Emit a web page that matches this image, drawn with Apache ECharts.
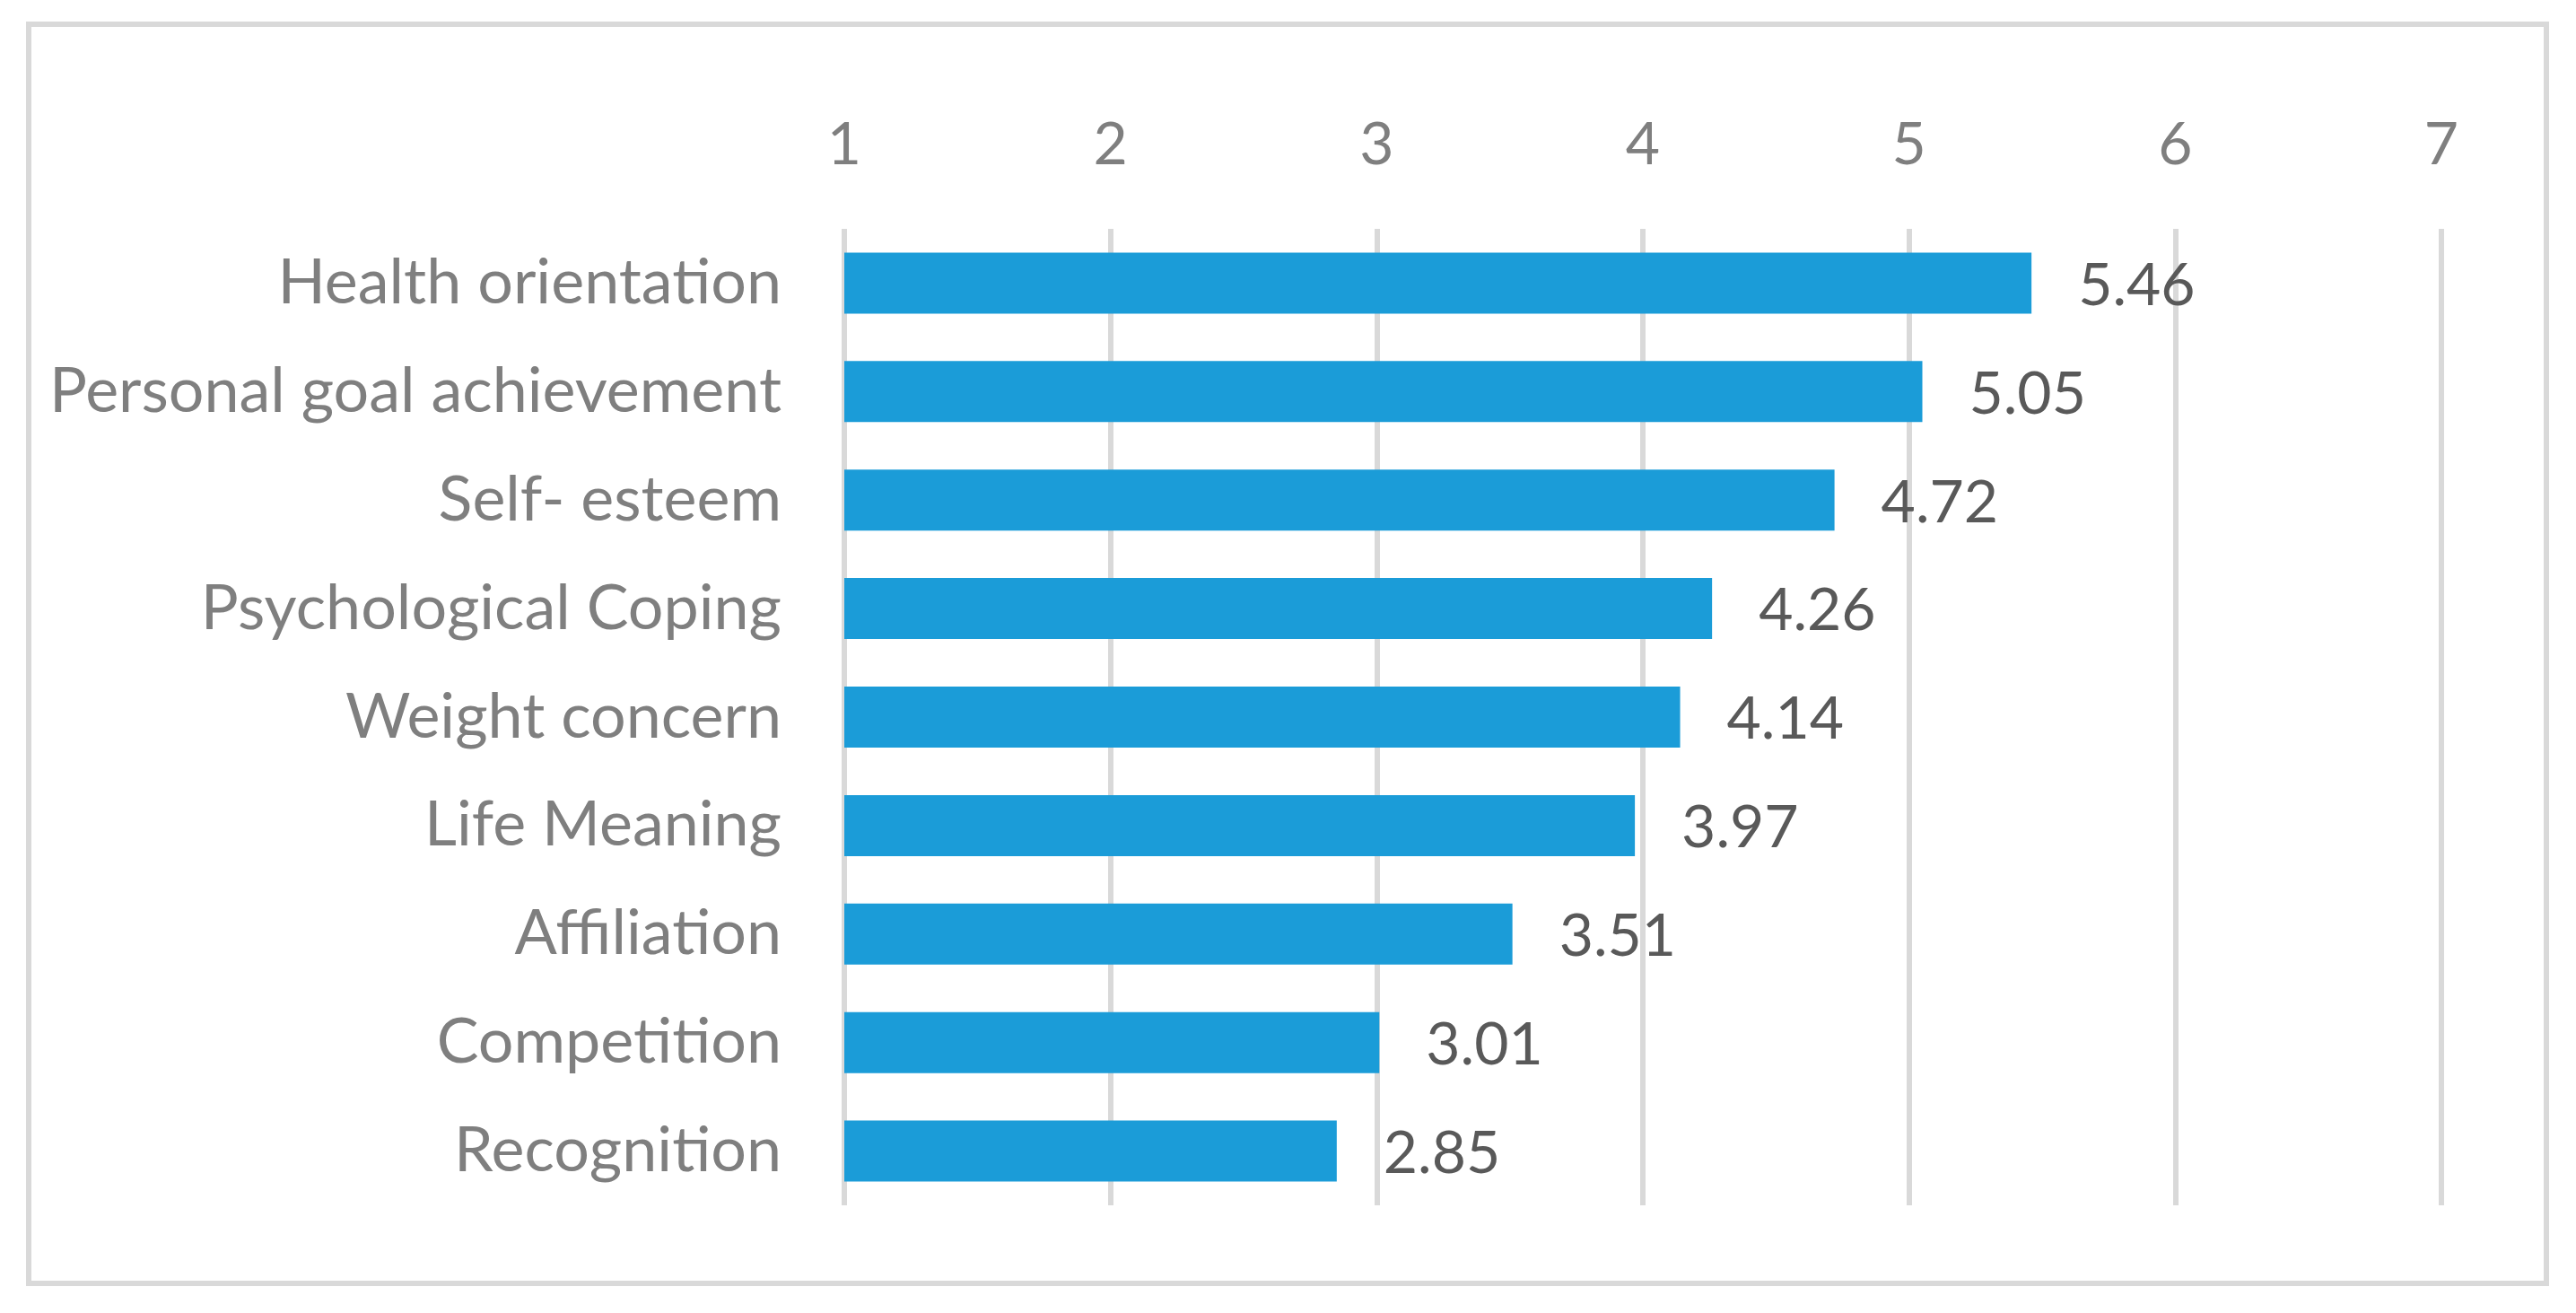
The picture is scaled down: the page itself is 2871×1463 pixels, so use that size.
<!DOCTYPE html>
<html>
<head>
<meta charset="utf-8">
<title>Motives</title>
<script src="https://cdn.jsdelivr.net/npm/echarts@6/dist/echarts.min.js"></script>
<style>
  html, body { margin: 0; padding: 0; background: #fff; }
  #chart { width: 2871px; height: 1463px; }
</style>
</head>
<body>
<div id="chart"></div>
<script>
// data
var categories = ['Health orientation', 'Personal goal achievement', 'Self- esteem',
  'Psychological Coping', 'Weight concern', 'Life Meaning', 'Affiliation',
  'Competition', 'Recognition'];
var scores = [5.46, 5.05, 4.72, 4.26, 4.14, 3.97, 3.51, 3.01, 2.85];
var axisMin = 1, axisMax = 7, axisStep = 1;

var myChart = echarts.init(document.getElementById('chart'));
myChart.setOption({
  animation: false,
  backgroundColor: '#fff',
  textStyle: { fontFamily: 'Lato' },
  graphic: [{
    type: 'rect',
    shape: { x: 32, y: 27, width: 2806, height: 1403 },
    style: { fill: 'none', stroke: '#d9d9d9', lineWidth: 6 }
  }],
  grid: { left: 941, right: 150, top: 255, bottom: 120 },
  xAxis: {
    type: 'value',
    position: 'top',
    min: axisMin,
    max: axisMax,
    interval: axisStep,
    axisLine: { show: false },
    axisTick: { show: false },
    axisLabel: { color: '#7f7f7f', fontSize: 66, margin: 60 },
    splitLine: { lineStyle: { color: '#d9d9d9', width: 6 } }
  },
  yAxis: {
    type: 'category',
    inverse: true,
    data: categories,
    axisLine: { show: false },
    axisTick: { show: false },
    axisLabel: { color: '#7f7f7f', fontSize: 70, margin: 70 }
  },
  series: [{
    type: 'bar',
    data: scores,
    barWidth: 68,
    itemStyle: { color: '#1b9cd8' },
    label: {
      show: true,
      position: 'right',
      distance: 52,
      color: '#595959',
      fontSize: 66,
      offset: [0, 3]
    }
  }]
});
</script>
</body>
</html>
